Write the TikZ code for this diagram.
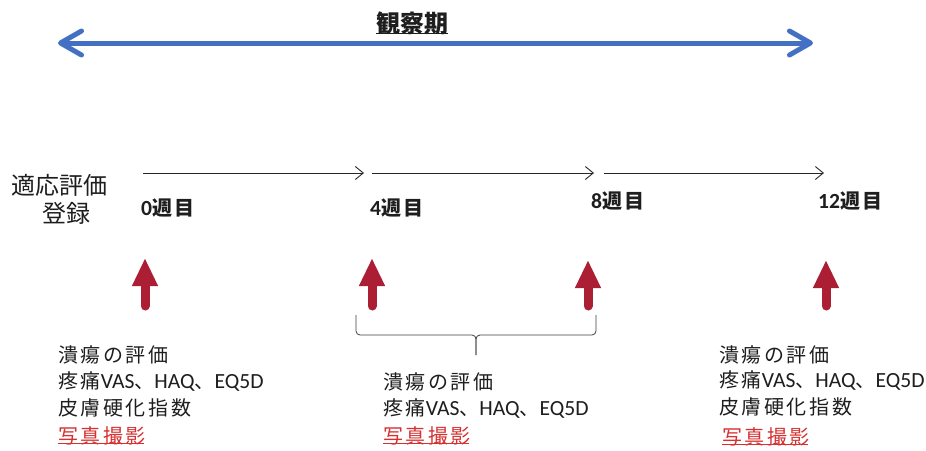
\documentclass[tikz,border=0pt]{standalone}
\usepackage{fontspec}
\setmainfont{Noto Sans CJK JP}
\newfontfamily\cjks[LetterSpace=13]{Noto Sans CJK JP}
\newfontfamily\lat[Scale=1.08]{Carlito}
\usetikzlibrary{arrows.meta}
\definecolor{bluearr}{RGB}{68,112,196}
\definecolor{redarr}{RGB}{172,30,52}
\definecolor{redtxt}{RGB}{214,48,48}
\definecolor{txtgray}{RGB}{30,30,30}
\newcommand{\painline}{{\cjks 疼痛}{\lat VAS}{\cjks 、}{\lat HAQ}{\cjks 、}{\lat EQ5D}}
\begin{document}
\begin{tikzpicture}[x=1pt,y=-1pt,
  txt/.style={anchor=west, inner sep=0pt, text=txtgray, font=\fontsize{20}{20}\selectfont\cjks},
  redlbl/.style={txt, text=redtxt},
  wk/.style={anchor=west, inner sep=0pt, text=txtgray, font=\fontsize{20}{20}\selectfont\bfseries},
  reglbl/.style={inner sep=0pt, text=txtgray, font=\fontsize{24}{24}\selectfont},
  timeline/.style={draw=black!85, line width=0.9pt, -{Straight Barb[length=8pt,width=13pt]}},
  redup/.style={draw=redarr, line width=9pt, line cap=round, -{Triangle[length=28pt,width=24pt]}},
  bluearrow/.style={draw=bluearr, line width=5pt, line cap=round, line join=round,
    {Straight Barb[length=21pt,width=24pt,line cap=round,line join=round]}-{Straight Barb[length=21pt,width=24pt,line cap=round,line join=round]}},
  bracestyle/.style={draw=black!75, line width=0.8pt, rounded corners=4pt}
]
\path[fill=white,use as bounding box] (0,0) rectangle (926,450);

% title and observation period arrow
\node[inner sep=0pt, text=txtgray, font=\fontsize{24}{24}\selectfont\bfseries] (title) at (412,23) {観察期};
\draw[txtgray, line width=1pt] ([yshift=1.5pt]title.south west) -- ([yshift=1.5pt]title.south east);
\coordinate (bl) at (58,43);
\coordinate (br) at (813,43);
\draw[bluearrow] (bl) -- (br);

% left label
\node[reglbl] (reg1) at (59,185) {適応評価};
\node[reglbl] (reg2) at (66,213) {登録};

% timeline arrows
\coordinate (t0) at (143,173);
\coordinate (t1) at (364,173);
\coordinate (t2) at (372,173);
\coordinate (t3) at (594,173);
\coordinate (t4) at (604,173);
\coordinate (t5) at (824,173);
\draw[timeline] (t0) -- (t1);
\draw[timeline] (t2) -- (t3);
\draw[timeline] (t4) -- (t5);

% week labels
\node[wk] (w0) at (141,208) {{\lat\bfseries 0}{\cjks\bfseries 週目}};
\node[wk] (w4) at (370,208) {{\lat\bfseries 4}{\cjks\bfseries 週目}};
\node[wk] (w8) at (591,201) {{\lat\bfseries 8}{\cjks\bfseries 週目}};
\node[wk] (w12) at (818,201) {{\lat\bfseries 12}{\cjks\bfseries 週目}};

% red arrows
\coordinate (r0a) at (145,306); \coordinate (r0b) at (145,258);
\coordinate (r4a) at (372,306); \coordinate (r4b) at (372,258);
\coordinate (r8a) at (588,306); \coordinate (r8b) at (588,260);
\coordinate (r12a) at (826,306); \coordinate (r12b) at (826,260);
\draw[redup] (r0a) -- (r0b);
\draw[redup] (r4a) -- (r4b);
\draw[redup] (r8a) -- (r8b);
\draw[redup] (r12a) -- (r12b);

% brace
\draw[bracestyle] (356,315) |- (476,335) -- (476,355);
\draw[bracestyle] (596,315) |- (476,335) -- (476,355);

% left text block
\node[txt] (l1) at (58,355) {潰瘍の評価};
\node[txt] (l2) at (58,382) {\painline};
\node[txt] (l3) at (58,408) {皮膚硬化指数};
\node[redlbl] (l4) at (58,436) {写真撮影};
\draw[redtxt, line width=0.8pt] ([yshift=2pt]l4.south west) -- ([yshift=2pt,xshift=-2pt]l4.south east);

% middle text block
\node[txt] (m1) at (383,382) {潰瘍の評価};
\node[txt] (m2) at (383,409) {\painline};
\node[redlbl] (m3) at (383,436) {写真撮影};
\draw[redtxt, line width=0.8pt] ([yshift=2pt]m3.south west) -- ([yshift=2pt,xshift=-2pt]m3.south east);

% right text block
\node[txt] (q1) at (719,355) {潰瘍の評価};
\node[txt] (q2) at (719,381) {\painline};
\node[txt] (q3) at (719,407) {皮膚硬化指数};
\node[redlbl] (q4) at (722,437) {写真撮影};
\draw[redtxt, line width=0.8pt] ([yshift=2pt]q4.south west) -- ([yshift=2pt,xshift=-2pt]q4.south east);
\end{tikzpicture}
\end{document}
